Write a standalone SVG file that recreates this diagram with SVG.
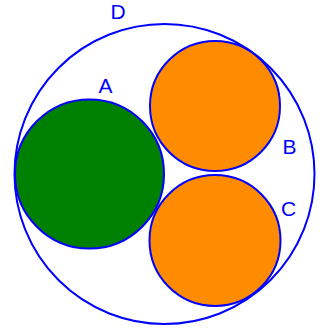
<svg xmlns="http://www.w3.org/2000/svg" width="321" height="329" viewBox="0 0 321 329">
<style>
.c{stroke:#0000ff;stroke-width:2}
.l{font-family:"Liberation Sans",Arial,sans-serif;font-size:21px;fill:#0000ff}
</style>
<rect width="321" height="329" fill="#ffffff"/>
<g id="D"><circle class="c" cx="164.5" cy="174" r="150" fill="none"/><text class="l" x="110.5" y="19">D</text></g>
<g id="A"><circle class="c" cx="89.5" cy="174" r="74.5" fill="#008000"/><text class="l" x="98.5" y="93">A</text></g>
<g id="B"><circle class="c" cx="215" cy="106" r="65" fill="#ff8c00"/><text class="l" x="282.5" y="154">B</text></g>
<g id="C"><circle class="c" cx="215" cy="240.5" r="65.5" fill="#ff8c00"/><text class="l" x="281" y="215.5">C</text></g>
</svg>
